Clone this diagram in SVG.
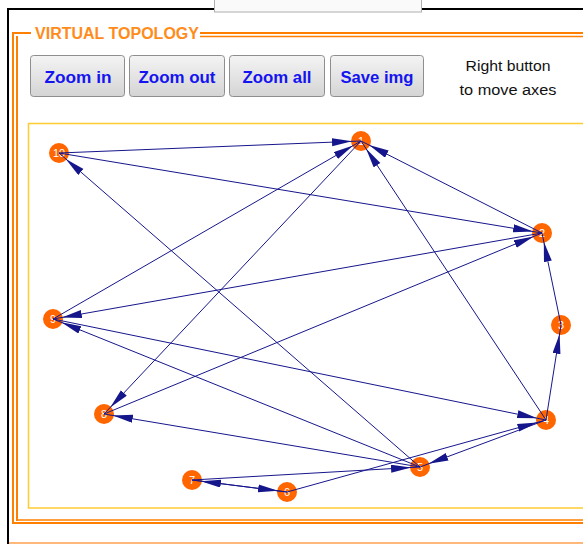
<svg xmlns="http://www.w3.org/2000/svg" width="583" height="544" viewBox="0 0 583 544">
<style>
.btn{fill:url(#g);stroke:#8e8e8e;stroke-width:1}
.bt{font-family:"Liberation Sans",Arial,sans-serif;font-size:17px;font-weight:bold;fill:#1414f0;text-anchor:middle}
.hint{font-family:"Liberation Sans",Arial,sans-serif;font-size:15.5px;fill:#111;text-anchor:middle}
.or{stroke:#ff7f00;fill:none}
.e{stroke:#16168c;stroke-width:1;fill:none}
.a{marker-end:url(#ah)}
.n{fill:#ff6600}
.nl{font-family:"Liberation Sans",Arial,sans-serif;font-size:11px;fill:#ffffff;text-anchor:middle}
</style>
<defs>
<linearGradient id="g" x1="0" y1="0" x2="0" y2="1"><stop offset="0" stop-color="#f4f4f4"/><stop offset="1" stop-color="#d4d4d4"/></linearGradient>
<marker id="ah" markerUnits="userSpaceOnUse" markerWidth="22" markerHeight="9" refX="29" refY="4" orient="auto"><path d="M0,0 L20,4 L0,8 z" fill="#16168c"/></marker>
</defs>
<rect x="0" y="0" width="583" height="544" fill="#ffffff"/>
<g id="frame">
<rect x="7" y="8" width="2" height="536" fill="#000"/>
<rect x="7" y="8" width="576" height="2" fill="#000"/>
<rect x="214.5" y="-1" width="207" height="13" fill="#fafafa" stroke="#b0b0b0"/>
<line class="or" x1="12" y1="33" x2="31" y2="33" stroke-width="2"/>
<line class="or" x1="200" y1="33" x2="583" y2="33" stroke-width="2"/>
<line class="or" x1="200" y1="36.5" x2="583" y2="36.5" stroke-width="1.5"/>
<line class="or" x1="13" y1="32" x2="13" y2="524" stroke-width="2"/>
<line class="or" x1="17" y1="36" x2="17" y2="521" stroke-width="2"/>
<line class="or" x1="16" y1="520" x2="583" y2="520" stroke-width="1.5"/>
<line class="or" x1="12" y1="523" x2="583" y2="523" stroke-width="2"/>
<line x1="9" y1="543" x2="583" y2="543" stroke="#ffa050" stroke-width="1.5"/>
<text x="35" y="39" font-family="'Liberation Sans',Arial,sans-serif" font-size="16" font-weight="bold" fill="#ff8c1a" textLength="164" lengthAdjust="spacingAndGlyphs">VIRTUAL TOPOLOGY</text>
</g>
<g id="buttons">
<g id="btn-zoom-in"><rect class="btn" x="30.5" y="55.5" width="94" height="41" rx="3"/><text class="bt" x="78" y="83" textLength="67" lengthAdjust="spacingAndGlyphs">Zoom in</text></g>
<g id="btn-zoom-out"><rect class="btn" x="129.5" y="55.5" width="95" height="41" rx="3"/><text class="bt" x="177" y="83" textLength="77" lengthAdjust="spacingAndGlyphs">Zoom out</text></g>
<g id="btn-zoom-all"><rect class="btn" x="229.5" y="55.5" width="95" height="41" rx="3"/><text class="bt" x="277" y="83" textLength="69" lengthAdjust="spacingAndGlyphs">Zoom all</text></g>
<g id="btn-save"><rect class="btn" x="330.5" y="55.5" width="93" height="41" rx="3"/><text class="bt" x="377" y="83" textLength="73" lengthAdjust="spacingAndGlyphs">Save img</text></g>
<text class="hint" x="508" y="71" textLength="85" lengthAdjust="spacingAndGlyphs">Right button</text>
<text class="hint" x="508" y="95" textLength="97" lengthAdjust="spacingAndGlyphs">to move axes</text>
</g>
<rect id="plot" x="28.5" y="123.5" width="560" height="384.5" fill="none" stroke="#ffcc33" stroke-width="1.5"/>
<g id="n1"><circle class="n" cx="361" cy="141" r="10"/><text class="nl" x="361" y="145">1</text></g>
<g id="n2"><circle class="n" cx="542" cy="233" r="10"/><text class="nl" x="542" y="237">2</text></g>
<g id="n3"><circle class="n" cx="561" cy="325" r="10"/><text class="nl" x="561" y="329">3</text></g>
<g id="n4"><circle class="n" cx="546" cy="420" r="10"/><text class="nl" x="546" y="424">4</text></g>
<g id="n5"><circle class="n" cx="420" cy="467" r="10"/><text class="nl" x="420" y="471">5</text></g>
<g id="n6"><circle class="n" cx="287" cy="492" r="10"/><text class="nl" x="287" y="496">6</text></g>
<g id="n7"><circle class="n" cx="192" cy="480" r="10"/><text class="nl" x="192" y="484">7</text></g>
<g id="n8"><circle class="n" cx="104" cy="414" r="10"/><text class="nl" x="104" y="418">8</text></g>
<g id="n9"><circle class="n" cx="53" cy="319" r="10"/><text class="nl" x="53" y="323">9</text></g>
<g id="n10"><circle class="n" cx="59" cy="153" r="10"/><text class="nl" x="59" y="157">10</text></g>
<g id="connectors">
<line class="e a" x1="59" y1="153" x2="361" y2="141"/>
<line class="e a" x1="59" y1="153" x2="542" y2="233"/>
<line class="e a" x1="420" y1="467" x2="59" y2="153"/>
<line class="e a" x1="53" y1="319" x2="361" y2="141"/>
<line class="e a" x1="542" y1="233" x2="53" y2="319"/>
<line class="e a" x1="53" y1="319" x2="546" y2="420"/>
<line class="e a" x1="420" y1="467" x2="53" y2="319"/>
<line class="e a" x1="361" y1="141" x2="104" y2="414"/>
<line class="e a" x1="104" y1="414" x2="542" y2="233"/>
<line class="e a" x1="420" y1="467" x2="104" y2="414"/>
<line class="e a" x1="287" y1="492" x2="192" y2="480"/>
<line class="e a" x1="192" y1="480" x2="287" y2="492"/>
<line class="e a" x1="192" y1="480" x2="420" y2="467"/>
<line class="e a" x1="287" y1="492" x2="546" y2="420"/>
<line class="e a" x1="546" y1="420" x2="420" y2="467"/>
<line class="e a" x1="546" y1="420" x2="561" y2="325"/>
<line class="e a" x1="561" y1="325" x2="542" y2="233"/>
<line class="e a" x1="546" y1="420" x2="361" y2="141"/>
<line class="e a" x1="542" y1="233" x2="361" y2="141"/>
</g>
</svg>
